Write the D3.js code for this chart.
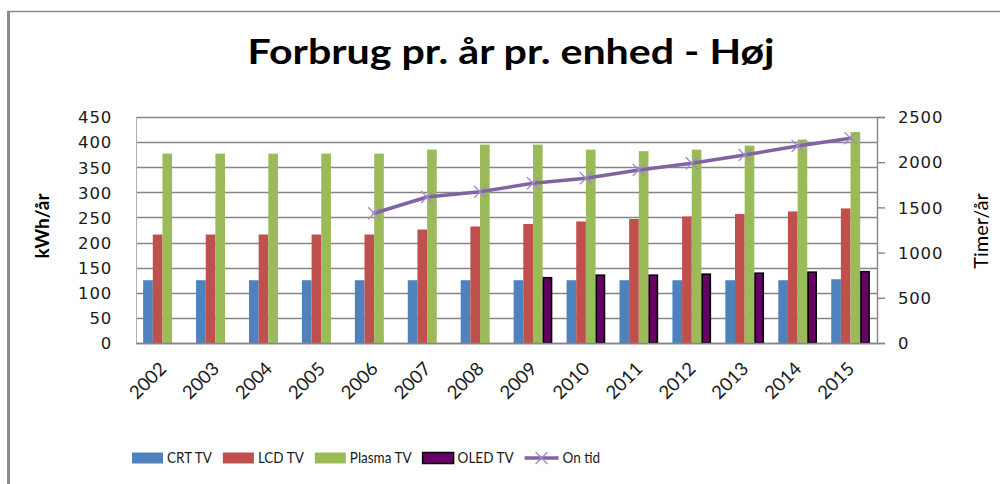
<!DOCTYPE html>
<html>
<head>
<meta charset="utf-8">
<script src="https://cdn.jsdelivr.net/npm/d3@7"></script>
<style>
  html, body { margin: 0; padding: 0; background: #fff; }
  svg { display: block; }
</style>
</head>
<body>
<svg id="chart" width="1000" height="484"></svg>
<script>
// ---- data ----
const years = ["2002","2003","2004","2005","2006","2007","2008","2009","2010","2011","2012","2013","2014","2015"];
const seriesNames = ["CRT TV", "LCD TV", "Plasma TV", "OLED TV"];
const crtTV    = [125,125,125,125,125,125,125,125,125,125,125,125,125,127];
const lcdTV    = [216,216,216,216,216,226,232,237,242,247,252,257,262,268];
const plasmaTV = [377,377,377,377,377,385,395,395,385,382,385,393,405,420];
const oledTV   = [null,null,null,null,null,null,null,130,135,135,137,139,141,142];
const onTidYears = ["2006","2007","2008","2009","2010","2011","2012","2013","2014","2015"];
const onTid      = [1435,1615,1674,1767,1822,1914,1988,2080,2179,2264];
const leftTicks  = [0,50,100,150,200,250,300,350,400,450];
const rightTicks = [0,500,1000,1500,2000,2500];
const lineName = "On tid";
const titleText = "Forbrug pr. år pr. enhed - Høj";
const leftTitle = "kWh/år";
const rightTitle = "Timer/år";

const seriesValues = [crtTV, lcdTV, plasmaTV, oledTV];
const colors = ["#4F81BD", "#C0504D", "#9BBB59", "#660066"];
const lineColor = "#8064A2";
const markerColor = "#A08BC4";

// ---- layout ----
const svg = d3.select("#chart");
const plot = { left: 136, right: 877, top: 117, bottom: 343 };

// outer frame
svg.append("line").attr("x1", 8.5).attr("x2", 8.5).attr("y1", 11).attr("y2", 484)
  .attr("stroke", "#8c8c8c").attr("stroke-width", 3);
svg.append("line").attr("x1", 7).attr("x2", 1000).attr("y1", 11.5).attr("y2", 11.5)
  .attr("stroke", "#8c8c8c").attr("stroke-width", 1.5);

const x0 = d3.scaleBand().domain(years).range([plot.left, plot.right]).padding(0);
const bw = x0.bandwidth();
const x1 = d3.scaleBand().domain(seriesNames).range([bw * 0.135, bw * 0.865]).padding(0);
const y = d3.scaleLinear().domain([0, 450]).range([plot.bottom, plot.top]);
const y2 = d3.scaleLinear().domain([0, 2500]).range([plot.bottom, plot.top]);

// gridlines
svg.append("g").selectAll("line").data(leftTicks).join("line")
  .attr("x1", plot.left).attr("x2", plot.right)
  .attr("y1", d => Math.round(y(d)) + 0.5).attr("y2", d => Math.round(y(d)) + 0.5)
  .attr("stroke", "#868686").attr("stroke-width", 1.4);

// left border line
svg.append("line").attr("x1", plot.left + 0.5).attr("x2", plot.left + 0.5)
  .attr("y1", plot.top).attr("y2", plot.bottom)
  .attr("stroke", "#b0b0b0").attr("stroke-width", 1);

// bars
const table = [];
years.forEach((yr, i) => {
  seriesValues.forEach((vals, s) => {
    if (vals[i] != null) table.push({ year: yr, s, value: vals[i] });
  });
});
svg.append("g").selectAll("rect").data(table).join("rect")
  .attr("x", d => x0(d.year) + x1(seriesNames[d.s]) + (d.s === 3 ? 0.75 : 0))
  .attr("width", d => x1.bandwidth() - (d.s === 3 ? 1.5 : 0))
  .attr("y", d => y(d.value))
  .attr("height", d => y(0) - y(d.value))
  .attr("fill", d => colors[d.s])
  .attr("stroke", d => d.s === 3 ? "#000" : "none")
  .attr("stroke-width", 1.6);

// bottom axis line
svg.append("line").attr("x1", plot.left).attr("x2", plot.right)
  .attr("y1", plot.bottom + 0.5).attr("y2", plot.bottom + 0.5)
  .attr("stroke", "#868686").attr("stroke-width", 1.4);

// left axis
const leftAxis = d3.axisLeft(y).tickValues(leftTicks).tickSize(0).tickPadding(0);
const gL = svg.append("g").attr("transform", `translate(${plot.left - 24},0)`).call(leftAxis);
gL.select(".domain").remove();
gL.selectAll("text").attr("font-family", "DejaVu Sans").attr("font-size", 16.5)
  .attr("fill", "#1a1a1a").attr("dy", "0.35em").attr("letter-spacing", 0.8);

// right axis
const rightAxis = d3.axisRight(y2).tickValues(rightTicks).tickFormat(d3.format("d")).tickSize(8).tickPadding(13);
const gR = svg.append("g").attr("transform", `translate(${plot.right},0)`).call(rightAxis);
gR.select(".domain").attr("stroke", "#868686").attr("stroke-width", 1.4);
gR.selectAll(".tick line").attr("stroke", "#868686").attr("stroke-width", 1.4);
gR.selectAll("text").attr("font-family", "DejaVu Sans").attr("font-size", 16.5)
  .attr("fill", "#1a1a1a").attr("dy", "0.35em").attr("letter-spacing", 0.8);

// x labels
svg.append("g").selectAll("text").data(years).join("text")
  .attr("transform", d => `translate(${x0(d) + bw / 2 + 5},${plot.bottom + 27}) rotate(-45)`)
  .attr("text-anchor", "end")
  .attr("font-family", "Lato").attr("font-size", 18.5).attr("fill", "#1a1a1a")
  .text(d => d);

// line
const line = d3.line().x((d, i) => x0(onTidYears[i]) + bw / 2).y(d => y2(d));
svg.append("path").datum(onTid).attr("d", line)
  .attr("fill", "none").attr("stroke", lineColor).attr("stroke-width", 3.5)
  .attr("stroke-linejoin", "round").attr("stroke-linecap", "round");
const m = 6;
svg.append("g").selectAll("path").data(onTid).join("path")
  .attr("d", (d, i) => {
    const cx = x0(onTidYears[i]) + bw / 2, cy = y2(d);
    return `M${cx - m},${cy - m}L${cx + m},${cy + m}M${cx - m},${cy + m}L${cx + m},${cy - m}`;
  })
  .attr("stroke", markerColor).attr("stroke-width", 1.3).attr("fill", "none");

// title
svg.append("text").attr("x", 511).attr("y", 64).attr("text-anchor", "middle")
  .attr("font-family", "Lato").attr("font-weight", "bold").attr("font-size", 35)
  .attr("textLength", 527).attr("lengthAdjust", "spacingAndGlyphs")
  .attr("fill", "#000").text(titleText);

// axis titles
svg.append("text").attr("transform", `translate(49,226) rotate(-90)`)
  .attr("text-anchor", "middle").attr("font-family", "Lato").attr("font-weight", "bold")
  .attr("font-size", 19).attr("fill", "#000").text(leftTitle);
svg.append("text").attr("transform", `translate(988,231) rotate(-90)`)
  .attr("text-anchor", "middle").attr("font-family", "Lato")
  .attr("font-size", 20).attr("fill", "#000").text(rightTitle);

// legend
const legendItems = seriesNames.map((n, i) => ({ name: n, type: "bar", i })).concat([{ name: lineName, type: "line" }]);
let lx = 132;
const ly = 458;
legendItems.forEach(it => {
  const g = svg.append("g");
  if (it.type === "bar") {
    g.append("rect").attr("x", lx).attr("y", ly - 5.5).attr("width", 31).attr("height", 11)
      .attr("fill", colors[it.i]).attr("stroke", it.i === 3 ? "#000" : "none").attr("stroke-width", 1.5);
  } else {
    g.append("line").attr("x1", lx).attr("x2", lx + 34).attr("y1", ly).attr("y2", ly)
      .attr("stroke", lineColor).attr("stroke-width", 3.5);
    const cx = lx + 17;
    g.append("path").attr("d", `M${cx - m},${ly - m}L${cx + m},${ly + m}M${cx - m},${ly + m}L${cx + m},${ly - m}`)
      .attr("stroke", markerColor).attr("stroke-width", 1.3);
  }
  const sw = it.type === "bar" ? 31 : 34;
  const t = g.append("text").attr("x", lx + sw + 4).attr("y", ly).attr("dy", "0.35em")
    .attr("font-family", "Lato").attr("font-size", 15).attr("fill", "#1a1a1a").text(it.name);
  const w = t.node().getComputedTextLength() * 0.9;
  t.attr("textLength", w).attr("lengthAdjust", "spacingAndGlyphs");
  lx += sw + 4 + w + 11;
});
</script>
</body>
</html>
